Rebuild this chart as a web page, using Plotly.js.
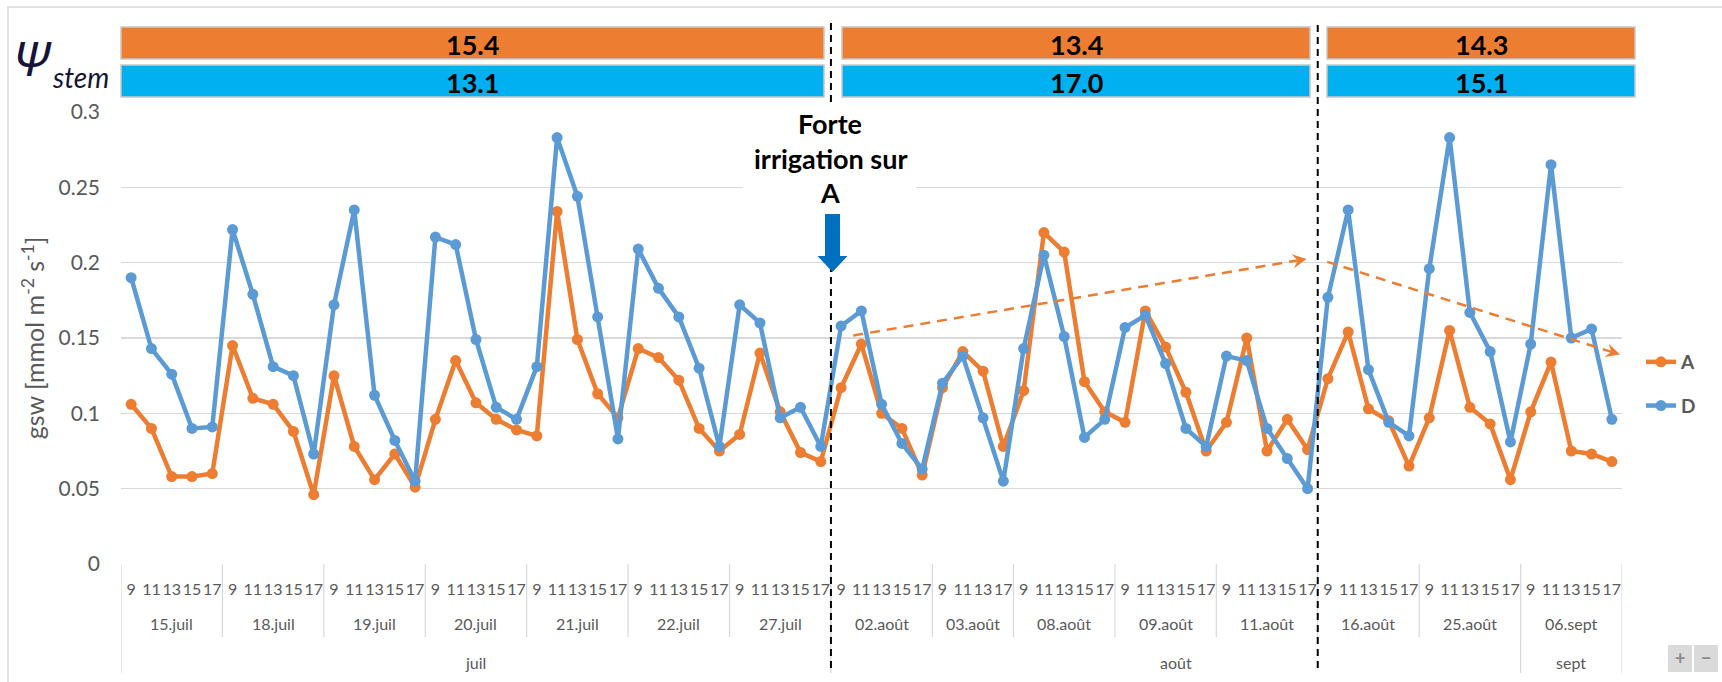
<!DOCTYPE html>
<html>
<head>
<meta charset="utf-8">
<script src="https://cdn.plot.ly/plotly-3.0.1.min.js"></script>
<style>
html,body{margin:0;padding:0;background:#ffffff;}
#chart{width:1722px;height:682px;}
</style>
</head>
<body>
<div id="chart"></div>
<script>
// ---------------- DATA ----------------
const days = ['15.juil','18.juil','19.juil','20.juil','21.juil','22.juil','27.juil',
              '02.août','03.août','08.août','09.août','11.août','16.août','25.août','06.sept'];
const hoursFull = ['9','11','13','15','17'];
const hoursShort = ['9','11','13','17'];
const dayHours = [hoursFull,hoursFull,hoursFull,hoursFull,hoursFull,hoursFull,hoursFull,
                  hoursFull,hoursShort,hoursFull,hoursFull,hoursFull,hoursFull,hoursFull,hoursFull];
const months = ['juil','août','sept'];
const monthDayCount = [7, 7, 1];

const seriesA = [
  0.106,0.090,0.058,0.058,0.060,
  0.145,0.110,0.106,0.088,0.046,
  0.125,0.078,0.056,0.073,0.051,
  0.096,0.135,0.107,0.096,0.089,
  0.085,0.234,0.149,0.113,0.097,
  0.143,0.137,0.122,0.090,0.075,
  0.086,0.140,0.101,0.074,0.068,
  0.117,0.146,0.100,0.090,0.059,
  0.117,0.141,0.128,0.078,
  0.115,0.220,0.207,0.121,0.101,
  0.094,0.168,0.144,0.114,0.075,
  0.094,0.150,0.075,0.096,0.076,
  0.123,0.154,0.103,0.095,0.065,
  0.097,0.155,0.104,0.093,0.056,
  0.101,0.134,0.075,0.073,0.068
];
const seriesD = [
  0.190,0.143,0.126,0.090,0.091,
  0.222,0.179,0.131,0.125,0.073,
  0.172,0.235,0.112,0.082,0.055,
  0.217,0.212,0.149,0.104,0.096,
  0.131,0.283,0.244,0.164,0.083,
  0.209,0.183,0.164,0.130,0.078,
  0.172,0.160,0.097,0.104,0.078,
  0.158,0.168,0.106,0.080,0.063,
  0.120,0.138,0.097,0.055,
  0.143,0.205,0.151,0.084,0.096,
  0.157,0.165,0.133,0.090,0.078,
  0.138,0.135,0.090,0.070,0.050,
  0.177,0.235,0.129,0.094,0.085,
  0.196,0.283,0.167,0.141,0.081,
  0.146,0.265,0.150,0.156,0.096
];
const seriesNames = ['A','D'];
const psiA = ['15.4','13.4','14.3'];
const psiD = ['13.1','17.0','15.1'];
const yTickVals = [0,0.05,0.1,0.15,0.2,0.25,0.3];
const yTickText = ['0','0.05','0.1','0.15','0.2','0.25','0.3'];
const noteLines = ['Forte','irrigation sur','A'];

// ---------------- BUILD ----------------
const W = 1722, H = 682, L = 121, R = 100, T = 112, B = 118;
const PW = W - L - R, PH = H - T - B;
const Y_MAX = 0.3;
const px = v => (v - L) / PW;           // pixel x -> paper
const py = v => (H - B - v) / PH;       // pixel y -> paper

const xs = [], tickText = [], dayStart = [];
let k = 0;
days.forEach((d, i) => {
  dayStart.push(k);
  dayHours[i].forEach(h => { xs.push(k); tickText.push(h); k++; });
});
const nCat = k;
const dataToPix = (x, y) => [L + (x + 0.5) / nCat * PW, H - B - y / Y_MAX * PH];

const FONT = 'Lato, "Open Sans", sans-serif';
const GRAY = '#595959';
const ORANGE = '#ED7D31', BLUE = '#5B9BD5';

const traces = [
  {x: xs, y: seriesA, name: seriesNames[0], legendgroup:'a', type:'scatter', mode:'lines+markers',
   line:{color:ORANGE,width:4.5}, marker:{color:ORANGE,size:11}},
  {x: xs, y: seriesD, name: seriesNames[1], legendgroup:'d', type:'scatter', mode:'lines+markers',
   line:{color:BLUE,width:4.5}, marker:{color:BLUE,size:11}}
];

const shapes = [];
const annotations = [];

// outer chart border
shapes.push({type:'rect', xref:'paper', yref:'paper', x0:px(8), x1:px(1760), y0:py(720), y1:py(7),
  line:{color:'#D9D9D9', width:1.5}, fillcolor:'rgba(0,0,0,0)', layer:'below'});

// category dividers (day level)
for (let i = 1; i < days.length; i++) {
  const xb = dayStart[i] - 0.5;
  shapes.push({type:'line', xref:'x', yref:'paper', x0:xb, x1:xb, y0:0, y1:py(637),
    line:{color:'#D9D9D9', width:1.2}});
}
// month dividers + outer borders
const monthBounds = [-0.5];
let dc = 0;
monthDayCount.forEach((c, m) => {
  dc += c;
  monthBounds.push(dc < days.length ? dayStart[dc] - 0.5 : nCat - 0.5);
});
monthBounds.forEach(xb => {
  shapes.push({type:'line', xref:'x', yref:'paper', x0:xb, x1:xb, y0:0, y1:py(673),
    line:{color:'#D9D9D9', width:1.2}});
});

// day labels
days.forEach((d, i) => {
  const s = dayStart[i], n = dayHours[i].length;
  annotations.push({xref:'x', yref:'paper', x: s + (n - 1) / 2, y: py(623), text: d, showarrow:false,
    font:{family:FONT, size:16, color:GRAY}, xanchor:'center', yanchor:'middle'});
});
// month labels
months.forEach((m, i) => {
  annotations.push({xref:'x', yref:'paper', x:(monthBounds[i] + monthBounds[i+1]) / 2, y: py(662), text: m,
    showarrow:false, font:{family:FONT, size:16, color:GRAY}, xanchor:'center', yanchor:'middle'});
});

// psi stem bars
const segs = [[121,824],[842,1310],[1327,1635]];
segs.forEach((s, i) => {
  shapes.push({type:'rect', xref:'paper', yref:'paper', x0:px(s[0]), x1:px(s[1]), y0:py(59), y1:py(27),
    fillcolor:'#ED7D31', line:{color:'#C8C8C8', width:1.5}});
  shapes.push({type:'rect', xref:'paper', yref:'paper', x0:px(s[0]), x1:px(s[1]), y0:py(97), y1:py(65),
    fillcolor:'#00B0F0', line:{color:'#C8C8C8', width:1.5}});
  annotations.push({xref:'paper', yref:'paper', x:px((s[0]+s[1])/2), y:py(44), text:psiA[i], showarrow:false,
    font:{family:FONT, size:27, color:'#000000', weight:'bold'}, xanchor:'center', yanchor:'middle'});
  annotations.push({xref:'paper', yref:'paper', x:px((s[0]+s[1])/2), y:py(82), text:psiD[i], showarrow:false,
    font:{family:FONT, size:27, color:'#000000', weight:'bold'}, xanchor:'center', yanchor:'middle'});
});

// Psi stem label
annotations.push({xref:'paper', yref:'paper', x:px(32), y:py(57), text:'<i>Ψ</i>', showarrow:false,
  font:{family:'"Noto Sans", sans-serif', size:48, color:'#15153a'}, xanchor:'center', yanchor:'middle'});
annotations.push({xref:'paper', yref:'paper', x:px(80), y:py(77), text:'<i>stem</i>', showarrow:false,
  font:{family:FONT, size:28, color:'#15153a'}, xanchor:'center', yanchor:'middle'});

// white box behind the note
shapes.push({type:'rect', xref:'paper', yref:'paper', x0:px(743), x1:px(916), y0:py(212), y1:py(100),
  fillcolor:'#ffffff', line:{width:0}, layer:'above'});

// dashed vertical separators
const sep1 = dayStart[7] - 0.5, sep2 = dayStart[12] - 0.5;
shapes.push({type:'line', xref:'x', yref:'paper', x0:sep1, x1:sep1, y0:py(102), y1:py(23),
  line:{color:'#000000', width:2, dash:'7px,5px'}});
shapes.push({type:'line', xref:'x', yref:'paper', x0:sep1, x1:sep1, y0:py(668), y1:py(268),
  line:{color:'#000000', width:2, dash:'7px,5px'}});
shapes.push({type:'line', xref:'x', yref:'paper', x0:sep2, x1:sep2, y0:py(668), y1:py(20),
  line:{color:'#000000', width:2, dash:'7px,5px'}});

// blue arrow (irrigation)
const ax = 832.5;
const arrowPts = [[ax-7.5,214],[ax+7.5,214],[ax+7.5,256],[ax+15,256],[ax,272],[ax-15,256],[ax-7.5,256]];
shapes.push({type:'path', xref:'paper', yref:'paper', layer:'above',
  path: 'M' + arrowPts.map(p => px(p[0]) + ',' + py(p[1])).join(' L') + ' Z',
  fillcolor:'#0070C0', line:{width:0}});

// note text
const noteY = [123, 158, 192];
noteLines.forEach((t, i) => {
  annotations.push({xref:'paper', yref:'paper', x:px(830), y:py(noteY[i]), text:t, showarrow:false,
    font:{family:FONT, size:27, color:'#000000', weight:'bold'}, xanchor:'center', yanchor:'middle'});
});

// orange dashed trend arrows (line + arrowhead path)
const trends = [[35.6, 0.1517, 57.95, 0.2025], [58.97, 0.2005, 73.4, 0.139]];
trends.forEach(t => {
  const p0 = dataToPix(t[0], t[1]), p1 = dataToPix(t[2], t[3]);
  const dx = p1[0] - p0[0], dy = p1[1] - p0[1], len = Math.hypot(dx, dy);
  const ux = dx / len, uy = dy / len, nx = -uy, ny = ux;
  const hl = 14, hw = 7, notch = 9;
  const base = [p1[0] - ux*hl, p1[1] - uy*hl];
  const lineEnd = [p1[0] - ux*notch, p1[1] - uy*notch];
  shapes.push({type:'line', xref:'paper', yref:'paper', x0:px(p0[0]), y0:py(p0[1]), x1:px(lineEnd[0]), y1:py(lineEnd[1]),
    line:{color:ORANGE, width:2.5, dash:'10px,7px'}});
  const head = [p1, [base[0] + nx*hw, base[1] + ny*hw], lineEnd, [base[0] - nx*hw, base[1] - ny*hw]];
  shapes.push({type:'path', xref:'paper', yref:'paper',
    path:'M' + head.map(p => px(p[0]) + ',' + py(p[1])).join(' L') + ' Z',
    fillcolor:ORANGE, line:{width:0}});
});

// +/- buttons
shapes.push({type:'rect', xref:'paper', yref:'paper', x0:px(1668), x1:px(1692), y0:py(672), y1:py(645),
  fillcolor:'#DADADA', line:{width:0}});
shapes.push({type:'rect', xref:'paper', yref:'paper', x0:px(1694), x1:px(1718), y0:py(672), y1:py(645),
  fillcolor:'#DADADA', line:{width:0}});
annotations.push({xref:'paper', yref:'paper', x:px(1680), y:py(658), text:'+', showarrow:false,
  xanchor:'center', yanchor:'middle', font:{family:FONT, size:18, color:'#8A8A8A', weight:'bold'}});
annotations.push({xref:'paper', yref:'paper', x:px(1706), y:py(658), text:'−', showarrow:false,
  xanchor:'center', yanchor:'middle', font:{family:FONT, size:18, color:'#8A8A8A', weight:'bold'}});

const layout = {
  width: W, height: H,
  margin: {l:L, r:R, t:T, b:B, pad:0},
  paper_bgcolor:'#ffffff', plot_bgcolor:'#ffffff',
  font:{family:FONT, color:GRAY},
  showlegend:true,
  legend:{x:px(1641), y:py(343), xanchor:'left', yanchor:'top', traceorder:'grouped', tracegroupgap:16,
    font:{family:FONT, size:19, color:GRAY, weight:'bold'}, bgcolor:'rgba(0,0,0,0)'},
  xaxis:{type:'linear', range:[-0.5, nCat - 0.5], tickmode:'array', tickvals:xs, ticktext:tickText,
    tickangle:0, showgrid:false, zeroline:false, showline:false, ticks:'',
    ticklabelstandoff:14, tickfont:{family:FONT, size:16, color:GRAY}, fixedrange:true},
  yaxis:{range:[0,Y_MAX], tickmode:'array', tickvals:yTickVals, ticktext:yTickText,
    showgrid:true, gridcolor:'#D9D9D9', gridwidth:1.2, zeroline:false, showline:false, ticks:'',
    ticklabelstandoff:20, tickfont:{family:FONT, size:21, color:GRAY},
    title:{text:'gsw [mmol m<sup>-2</sup> s<sup>-1</sup>]', font:{family:FONT, size:25, color:GRAY}, standoff:6},
    automargin:false, fixedrange:true},
  shapes: shapes,
  annotations: annotations
};

Plotly.newPlot('chart', traces, layout, {displayModeBar:false, staticPlot:true});
</script>
</body>
</html>
